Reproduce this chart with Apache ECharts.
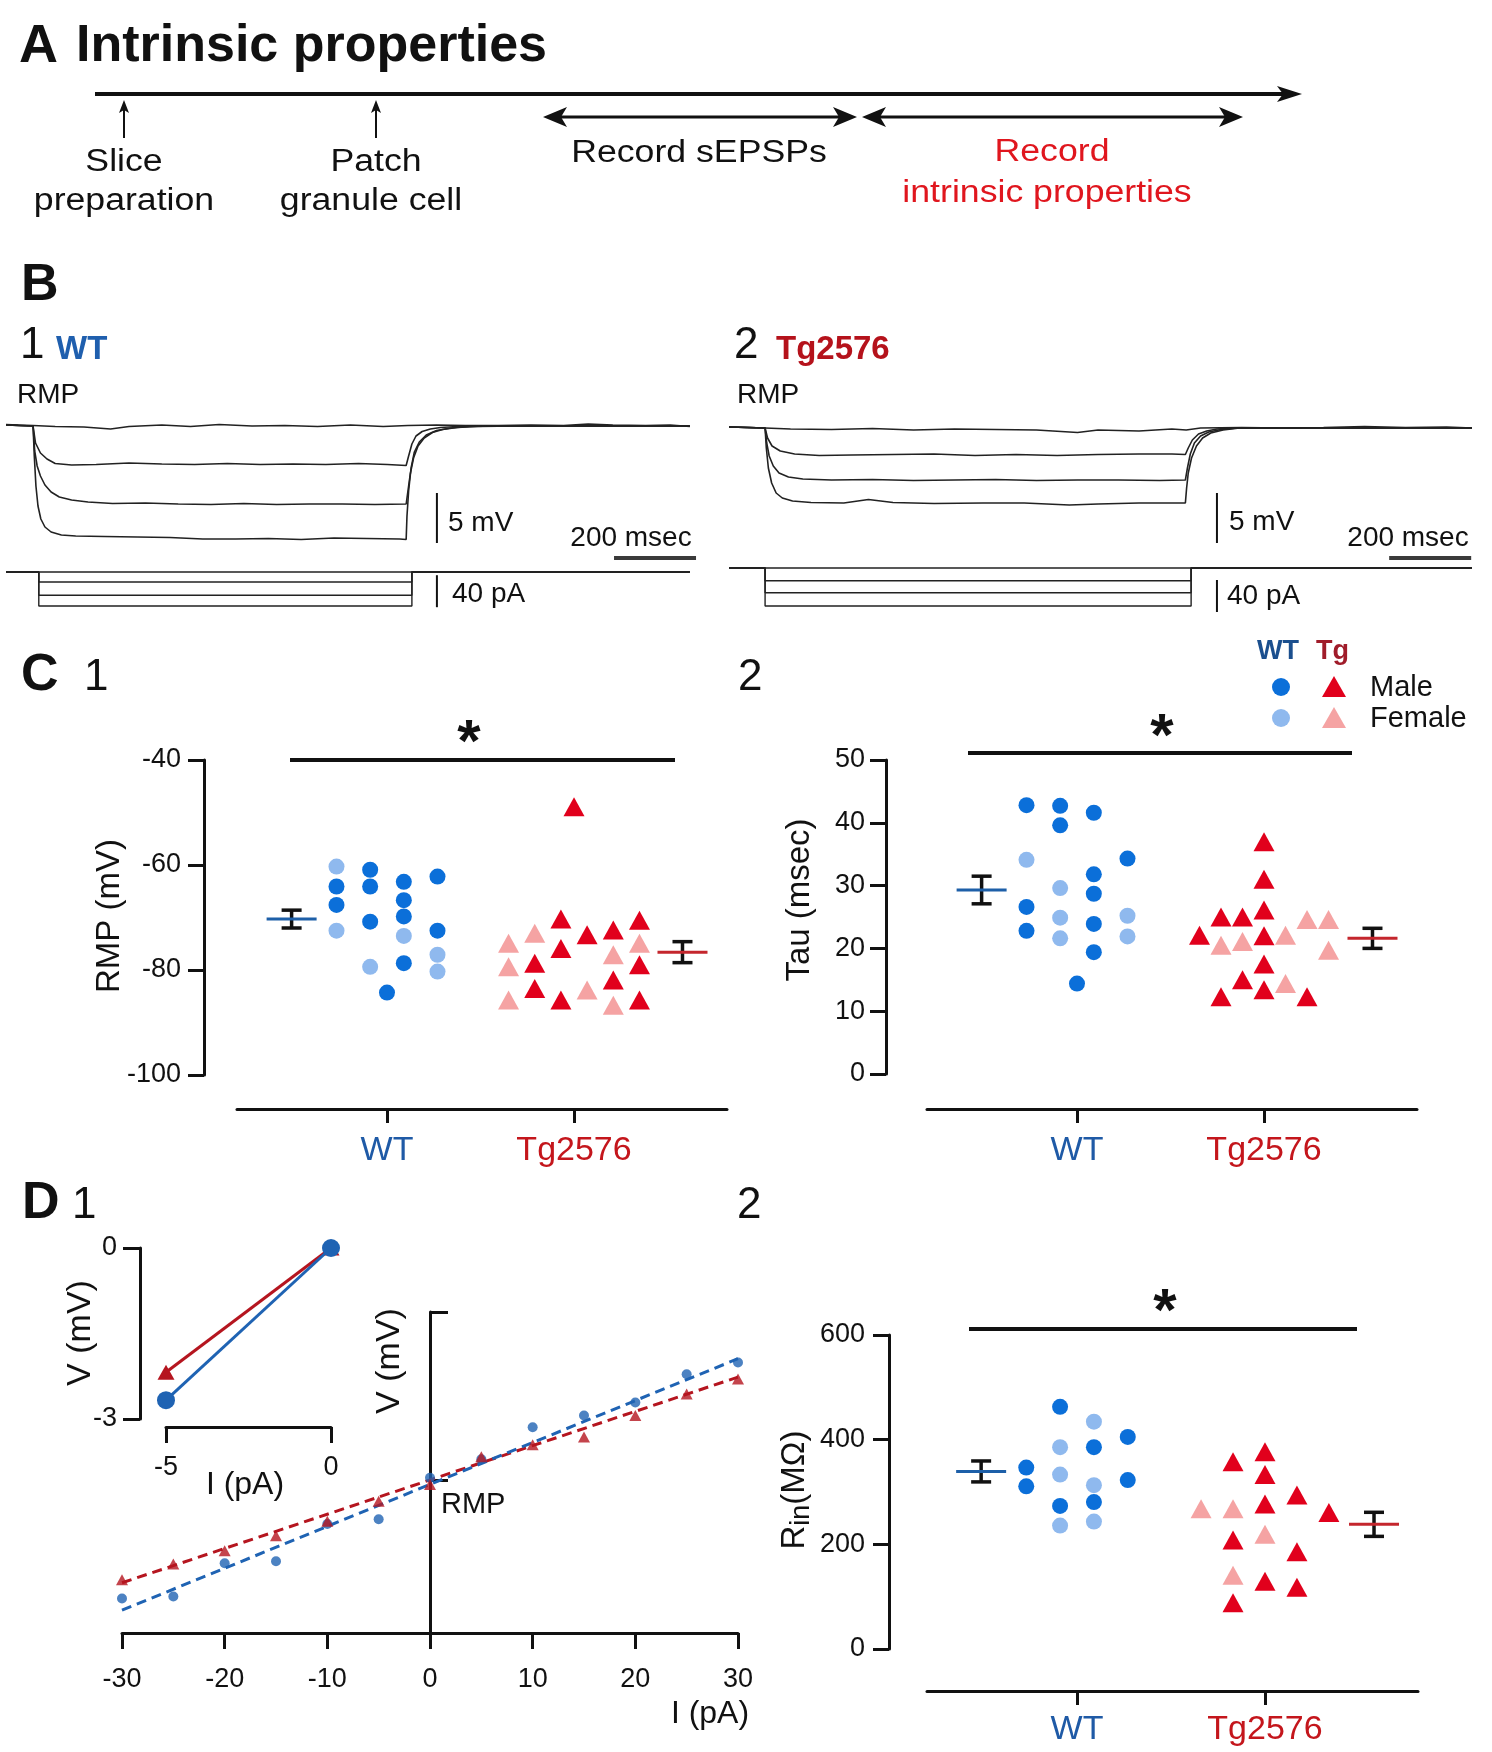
<!DOCTYPE html>
<html>
<head>
<meta charset="utf-8">
<title>Intrinsic properties</title>
<script src="https://cdn.jsdelivr.net/npm/echarts@6.0.0/dist/echarts.min.js"></script>
<style>
html,body{margin:0;padding:0;background:#ffffff;}
#chart{width:1492px;height:1752px;}
</style>
</head>
<body>
<div id="chart"></div>
<script>
// ======================= DATA =======================
const groups = ['WT', 'Tg2576'];

// ---- Panel B: voltage traces [time ms, V (mV) re RMP] ----
const wtTrace0 = [[0,0.15],[30,0.1],[66,0.05],[120,-0.05],[190,-0.1],[255,-0.3],[300,-0.05],[380,0.1],[450,-0.05],[520,0.15],[600,0],[680,0.05],[760,-0.05],[840,0.1],[920,-0.05],[980,0.05],[1050,0.1],[1120,0.05],[1200,0.05],[1280,0.1],[1360,0.05],[1420,0.2],[1480,0.1],[1560,0.05],[1620,0.1],[1668,-0.05]];
const wtTrace1 = [[0,0.1],[66,0],[72,-1.7],[84,-2.7],[100,-3.3],[120,-3.75],[160,-3.9],[220,-3.85],[300,-3.7],[380,-3.8],[460,-3.85],[540,-3.75],[620,-3.85],[700,-3.8],[780,-3.85],[860,-3.75],[930,-3.85],[976,-3.95],[982,-3.0],[990,-1.8],[1000,-1.0],[1015,-0.55],[1035,-0.3],[1060,-0.15],[1100,-0.05],[1160,0.02],[1668,0]];
const wtTrace2 = [[0,0.1],[66,0],[70,-2.5],[76,-4.0],[84,-5.0],[95,-5.9],[110,-6.6],[130,-7.1],[160,-7.4],[200,-7.6],[260,-7.75],[340,-7.7],[420,-7.8],[500,-7.85],[580,-7.75],[660,-7.85],[740,-7.8],[820,-7.8],[900,-7.85],[976,-7.8],[980,-6.6],[986,-4.8],[994,-3.2],[1005,-2.0],[1020,-1.2],[1040,-0.65],[1065,-0.35],[1100,-0.15],[1150,-0.05],[1250,0],[1668,0]];
const wtTrace3 = [[0,0.1],[66,0],[69,-3.0],[73,-6.0],[78,-8.0],[85,-9.3],[95,-10.1],[110,-10.6],[135,-10.9],[170,-11.0],[240,-11.05],[320,-11.1],[400,-11.15],[480,-11.3],[560,-11.3],[640,-11.25],[720,-11.35],[800,-11.2],[880,-11.25],[960,-11.3],[976,-11.35],[978,-9.0],[982,-6.5],[988,-4.2],[996,-2.6],[1008,-1.6],[1025,-0.9],[1050,-0.45],[1085,-0.2],[1130,-0.05],[1200,0],[1668,0]];
const tgTrace0 = [[0,0.1],[50,0.05],[88,0],[150,-0.1],[250,-0.15],[350,-0.05],[450,-0.2],[550,-0.1],[650,-0.15],[750,-0.2],[850,-0.45],[900,-0.2],[1000,-0.3],[1080,-0.1],[1115,-0.2],[1150,0],[1250,0.05],[1350,0],[1450,0.05],[1550,0.15],[1650,0.05],[1750,0.1],[1812,0]];
const tgTrace1 = [[0,0.1],[88,0],[94,-1.0],[105,-1.8],[125,-2.3],[160,-2.6],[220,-2.75],[300,-2.7],[400,-2.65],[500,-2.6],[600,-2.75],[700,-2.65],[800,-2.75],[900,-2.65],[1000,-2.6],[1080,-2.6],[1113,-2.65],[1120,-2.0],[1130,-1.2],[1145,-0.6],[1165,-0.3],[1190,-0.1],[1230,0],[1812,0]];
const tgTrace2 = [[0,0.1],[88,0],[92,-1.5],[98,-2.8],[108,-3.8],[122,-4.5],[145,-4.9],[180,-5.1],[250,-5.2],[350,-5.15],[450,-5.25],[550,-5.2],[650,-5.15],[750,-5.25],[850,-5.2],[950,-5.2],[1050,-5.25],[1113,-5.2],[1118,-4.0],[1125,-2.6],[1135,-1.5],[1150,-0.8],[1170,-0.4],[1200,-0.15],[1240,0],[1812,0]];
const tgTrace3 = [[0,0.1],[88,0],[91,-2.0],[96,-4.0],[104,-5.5],[115,-6.5],[130,-7.0],[155,-7.3],[200,-7.45],[280,-7.5],[340,-7.15],[400,-7.45],[500,-7.55],[620,-7.5],[720,-7.5],[830,-7.7],[900,-7.6],[1000,-7.5],[1113,-7.5],[1116,-6.0],[1120,-4.5],[1128,-3.0],[1140,-1.8],[1155,-1.0],[1175,-0.5],[1205,-0.2],[1245,0],[1812,0]];

// ---- Panel B: current steps (pA) and timing (ms) ----
const wtStepLevels = [0, -12.5, -29, -42.5];
const wtStepWindow = [80, 990];
const wtDuration = 1668;
const tgStepLevels = [0, -16, -31, -47.5];
const tgStepWindow = [88, 1127];
const tgDuration = 1812;

// ---- Panel C1: RMP (mV), [beeswarm column, value] ----
const rmpWtMale   = [[-3,-64.1],[-3,-67.6],[-1,-60.9],[-1,-64.1],[-1,-70.8],[0,-84.3],[1,-63.2],[1,-66.7],[1,-69.8],[1,-78.7],[3,-62.2],[3,-72.5]];
const rmpWtFemale = [[-3,-60.3],[-3,-72.5],[-1,-79.4],[1,-73.5],[3,-77.1],[3,-80.3]];
const rmpTgMale   = [[-3,-78.7],[-3,-83.5],[-1,-70.3],[-1,-75.9],[-1,-85.7],[0,-48.9],[1,-73.3],[3,-72.4],[3,-81.9],[5,-70.5],[5,-79.0],[5,-85.7]];
const rmpTgFemale = [[-5,-74.9],[-5,-79.4],[-5,-85.7],[-3,-73.0],[1,-83.8],[3,-77.1],[3,-86.7],[5,-74.9]];
const rmpStats = [[-70.3, 1.7], [-76.6, 2.0]];   // mean, SEM

// ---- Panel C2: Tau (msec) ----
const tauWtMale   = [[-3,42.8],[-3,26.6],[-3,22.8],[-1,42.7],[-1,39.6],[0,14.4],[1,41.6],[1,31.8],[1,28.7],[1,23.9],[1,19.4],[3,34.3]];
const tauWtFemale = [[-3,34.1],[-1,29.6],[-1,24.9],[-1,21.6],[3,25.2],[3,21.9]];
const tauTgMale   = [[-3,22.1],[-2,25.0],[-2,12.3],[-1,25.0],[-1,15.0],[0,37.0],[0,31.0],[0,26.1],[0,22.0],[0,17.5],[0,13.4],[2,12.3]];
const tauTgFemale = [[-2,20.5],[-1,21.1],[1,22.1],[1,14.4],[2,24.6],[3,24.6],[3,19.7]];
const tauStats = [[29.3, 2.2], [21.6, 1.6]];

// ---- Panel D1: I-V relation ----
const ivCurrents = [-30,-25,-20,-15,-10,-5,0,5,10,15,20,25,30];            // pA
const ivWT = [-9.28,-9.13,-6.5,-6.35,-3.41,-3.04,0.24,1.69,4.21,5.14,6.17,8.39,9.32]; // mV re RMP
const ivTg = [-7.8,-6.56,-5.51,-4.33,-3.2,-1.62,-0.3,1.9,2.83,3.44,5.14,6.84,8.02];
const fitWT = [[-30,-10.2],[30,9.62]];
const fitTg = [[-30,-8.04],[30,8.17]];
const insetWT = [[-5,-2.67],[0,0]];
const insetTg = [[-5,-2.18],[0,0]];

// ---- Panel D2: Rin (MOhm) ----
const rinWtMale   = [[-3,346.7],[-3,310.8],[-1,462.8],[-1,273.4],[1,385.7],[1,280.8],[3,405.2],[3,322.8]];
const rinWtFemale = [[-1,385.7],[-1,333.3],[-1,235.9],[1,434.4],[1,313.0],[1,243.4]];
const rinTgMale   = [[-1,358.0],[-1,208.2],[-1,88.4],[0,376.7],[0,333.3],[0,277.2],[0,129.5],[1,294.4],[1,185.7],[1,118.2],[2,260.7]];
const rinTgFemale = [[-2,268.2],[-1,268.2],[-1,140.8],[0,219.5]];
const rinStats = [[339.3, 20], [238.2, 23]];

// ======================= STYLE / LAYOUT =======================
const FF = '"Liberation Sans", Arial, Helvetica, sans-serif';
const INK = '#111111';
const C_WT_M = '#0b6fd9', C_WT_F = '#8fb9ee', C_TG_M = '#e1001c', C_TG_F = '#f5a3a3';
const C_WT_MEAN = '#1d5fa8', C_TG_MEAN = '#c4262d';
const C_WT_TXT = '#1f5aa6', C_TG_TXT = '#c4161c';
const AX = { color: INK, width: 3 };
const MEAN_OFF = [-0.51, 0.58];

const grids = [], xAxes = [], yAxes = [], series = [], graphics = [];
function addGrid(g, xa, ya) {
  const gi = grids.length;
  grids.push(Object.assign({ outerBoundsMode: 'none', containLabel: false }, g));
  xAxes.push(Object.assign({ gridIndex: gi, splitLine: { show: false } }, xa));
  yAxes.push(Object.assign({ gridIndex: gi, splitLine: { show: false } }, ya));
  return gi;
}
function hidden(min, max) { return { type: 'value', show: false, min: min, max: max }; }

// ---------- Panel B grids ----------
const gBWV = addGrid({ left: 6, top: 406, width: 697, height: 160 }, hidden(0, 1700), hidden(-14, 2));
const gBWI = addGrid({ left: 6, top: 568, width: 697, height: 44 }, hidden(0, 1700), hidden(-50, 5));
const gBTV = addGrid({ left: 729, top: 408, width: 743, height: 160 }, hidden(0, 1812), hidden(-14, 2));
const gBTI = addGrid({ left: 729, top: 564, width: 743, height: 52 }, hidden(0, 1812), hidden(-60, 5));

function trace(gi, data, w) {
  series.push({ type: 'line', xAxisIndex: gi, yAxisIndex: gi, data: data, showSymbol: false, symbol: 'none',
    silent: true, lineStyle: { color: '#222222', width: w || 1.6 }, z: 3 });
}
[wtTrace0, wtTrace1, wtTrace2, wtTrace3].forEach(d => trace(gBWV, d));
[tgTrace0, tgTrace1, tgTrace2, tgTrace3].forEach(d => trace(gBTV, d));
function stepTrace(level, win, dur) {
  return [[0, 0], [win[0], 0], [win[0], level], [win[1], level], [win[1], 0], [dur, 0]];
}
wtStepLevels.forEach(l => trace(gBWI, stepTrace(l, wtStepWindow, wtDuration), 1.4));
tgStepLevels.forEach(l => trace(gBTI, stepTrace(l, tgStepWindow, tgDuration), 1.4));
// scale bars (drawn in the traces' own units)
function bar(gi, pts, w, c) {
  series.push({ type: 'line', xAxisIndex: gi, yAxisIndex: gi, data: pts, showSymbol: false, symbol: 'none',
    silent: true, lineStyle: { color: c || INK, width: w }, z: 4 });
}
bar(gBWV, [[1051, -6.7], [1051, -11.7]], 2);
bar(gBWV, [[1483, -13.2], [1683, -13.2]], 4, '#3a3a3a');
bar(gBWI, [[1051, -4], [1051, -44]], 2);
bar(gBTV, [[1190, -6.5], [1190, -11.5]], 2);
bar(gBTV, [[1610, -13.0], [1810, -13.0]], 4, '#3a3a3a');
bar(gBTI, [[1190, -15], [1190, -55]], 2);

// ---------- scatter panels ----------
function catAxis(min, max, offset, margin) {
  return {
    type: 'value', min: min, max: max, position: 'bottom', offset: offset,
    axisLine: { show: true, onZero: false, lineStyle: AX },
    axisTick: { show: true, customValues: [1, 2], length: 14, lineStyle: AX },
    axisLabel: { show: true, customValues: [1, 2], margin: margin,
      formatter: v => Math.round(v) === 1 ? '{w|' + groups[0] + '}' : '{t|' + groups[1] + '}',
      rich: { w: { color: C_WT_TXT, fontSize: 34, fontFamily: FF }, t: { color: C_TG_TXT, fontSize: 34, fontFamily: FF } } }
  };
}
function valAxis(min, max, interval, offset, margin) {
  return {
    type: 'value', min: min, max: max, interval: interval, position: 'left', offset: offset,
    axisLine: { show: true, onZero: false, lineStyle: AX },
    axisTick: { show: true, length: 16, lineStyle: AX },
    axisLabel: { show: true, fontSize: 27, fontFamily: FF, color: INK, margin: margin }
  };
}
const gC1 = addGrid({ left: 237, top: 760, width: 490, height: 315 }, catAxis(0.198, 2.818, 34, 25), valAxis(-100, -40, 20, 33, 23));
const gC2 = addGrid({ left: 927, top: 760, width: 490, height: 314 }, catAxis(0.198, 2.818, 35, 25), valAxis(0, 50, 10, 41, 21));
const gD2 = addGrid({ left: 927, top: 1335, width: 491, height: 314 }, catAxis(0.202, 2.814, 42, 22), valAxis(0, 600, 200, 38, 24));

function swarm(gi, data, cat, spacing, symbol, color) {
  series.push({
    type: 'scatter', xAxisIndex: gi, yAxisIndex: gi, silent: true, z: 5,
    symbol: symbol, symbolSize: symbol === 'circle' ? 16 : [21, 19],
    itemStyle: { color: color, opacity: 1 },
    data: data.map(p => [cat + p[0] * spacing, p[1]])
  });
}
function meanSem(gi, stats) {
  series.push({
    type: 'custom', xAxisIndex: gi, yAxisIndex: gi, silent: true, z: 6,
    data: stats.map((s, i) => [i + 1 + MEAN_OFF[i], s[0], s[1], i]),
    renderItem: function (params, api) {
      const x = api.value(0), m = api.value(1), s = api.value(2), idx = api.value(3);
      const c = api.coord([x, m]), t = api.coord([x, m + s]), b = api.coord([x, m - s]);
      const st = { stroke: INK, lineWidth: 3.5 };
      return { type: 'group', children: [
        { type: 'line', shape: { x1: c[0], y1: t[1], x2: c[0], y2: b[1] }, style: st },
        { type: 'line', shape: { x1: c[0] - 10, y1: t[1], x2: c[0] + 10, y2: t[1] }, style: st },
        { type: 'line', shape: { x1: c[0] - 10, y1: b[1], x2: c[0] + 10, y2: b[1] }, style: st },
        { type: 'line', shape: { x1: c[0] - 25, y1: c[1], x2: c[0] + 25, y2: c[1] },
          style: { stroke: idx === 0 ? C_WT_MEAN : C_TG_MEAN, lineWidth: 3 } }
      ] };
    }
  });
}
function panel(gi, wm, wf, tm, tf, stats, spWT, spTG) {
  swarm(gi, wf, 1, spWT, 'circle', C_WT_F);
  swarm(gi, wm, 1, spWT, 'circle', C_WT_M);
  swarm(gi, tf, 2, spTG, 'triangle', C_TG_F);
  swarm(gi, tm, 2, spTG, 'triangle', C_TG_M);
  meanSem(gi, stats);
}
panel(gC1, rmpWtMale, rmpWtFemale, rmpTgMale, rmpTgFemale, rmpStats, 0.09, 0.07);
panel(gC2, tauWtMale, tauWtFemale, tauTgMale, tauTgFemale, tauStats, 0.09, 0.115);
panel(gD2, rinWtMale, rinWtFemale, rinTgMale, rinTgFemale, rinStats, 0.09, 0.17);

// ---------- Panel D1 ----------
const gD1 = addGrid({ left: 122, top: 1312, width: 616, height: 321 },
  { type: 'value', min: -30, max: 30, interval: 10, position: 'bottom',
    axisLine: { show: true, onZero: false, lineStyle: AX },
    axisTick: { show: true, length: 16, lineStyle: AX },
    axisLabel: { show: true, fontSize: 27, fontFamily: FF, color: INK, margin: 33 } },
  { type: 'value', min: -12, max: 13.3,
    axisLine: { show: true, onZero: true, lineStyle: AX },
    axisTick: { show: true, inside: true, customValues: [0, 13.3], length: 18, lineStyle: AX },
    axisLabel: { show: false } });
const C_D_WT = '#1f63b3', C_D_TG = '#b5151f';
series.push({ type: 'line', xAxisIndex: gD1, yAxisIndex: gD1, data: fitTg, showSymbol: false, symbol: 'none', silent: true, z: 3,
  lineStyle: { color: C_D_TG, width: 3, type: [10, 6] } });
series.push({ type: 'line', xAxisIndex: gD1, yAxisIndex: gD1, data: fitWT, showSymbol: false, symbol: 'none', silent: true, z: 3,
  lineStyle: { color: C_D_WT, width: 3, type: [10, 6] } });
series.push({ type: 'scatter', xAxisIndex: gD1, yAxisIndex: gD1, silent: true, z: 5, symbol: 'circle', symbolSize: 10,
  itemStyle: { color: C_D_WT }, data: ivCurrents.map((c, i) => [c, ivWT[i]]) });
series.push({ type: 'scatter', xAxisIndex: gD1, yAxisIndex: gD1, silent: true, z: 5, symbol: 'triangle', symbolSize: [12, 11],
  itemStyle: { color: C_D_TG }, data: ivCurrents.map((c, i) => [c, ivTg[i]]) });

const gD1i = addGrid({ left: 166, top: 1248, width: 165, height: 171 },
  { type: 'value', min: -5, max: 0, interval: 5, position: 'bottom', offset: 8,
    axisLine: { show: true, onZero: false, lineStyle: AX },
    axisTick: { show: true, length: 16, lineStyle: AX },
    axisLabel: { show: true, fontSize: 27, fontFamily: FF, color: INK, margin: 27 } },
  { type: 'value', min: -3, max: 0, interval: 3, position: 'left', offset: 26,
    axisLine: { show: true, onZero: false, lineStyle: AX },
    axisTick: { show: true, length: 17, lineStyle: AX },
    axisLabel: { show: true, fontSize: 27, fontFamily: FF, color: INK, margin: 23 } });
series.push({ type: 'line', xAxisIndex: gD1i, yAxisIndex: gD1i, data: insetTg, silent: true, z: 4,
  symbol: 'triangle', symbolSize: [17, 15], showSymbol: true, showAllSymbol: true,
  itemStyle: { color: C_D_TG }, lineStyle: { color: C_D_TG, width: 3 } });
series.push({ type: 'line', xAxisIndex: gD1i, yAxisIndex: gD1i, data: insetWT, silent: true, z: 5,
  symbol: 'circle', symbolSize: 18, showSymbol: true, showAllSymbol: true,
  itemStyle: { color: C_D_WT }, lineStyle: { color: C_D_WT, width: 3 } });

// ======================= TEXT & DIAGRAM =======================
function T(x, y, text, size, o) {
  o = o || {};
  const st = { text: text, fontSize: size, fontFamily: FF, fontWeight: o.bold ? 'bold' : 'normal',
    fill: o.color || INK, align: o.align || 'left', verticalAlign: 'middle',
    textAlign: o.align || 'left', textVerticalAlign: 'middle' };
  if (o.rich) st.rich = o.rich;
  return { type: 'text', x: x, y: y, rotation: o.rot || 0, scaleX: o.sx || 1, silent: true, z: 50, style: st };
}
function L(x1, y1, x2, y2, w, c) {
  return { type: 'line', silent: true, z: 40, shape: { x1: x1, y1: y1, x2: x2, y2: y2 }, style: { stroke: c || INK, lineWidth: w } };
}
function P(pts, c) { return { type: 'polygon', silent: true, z: 41, shape: { points: pts }, style: { fill: c || INK } }; }
function headH(tx, ty, dir, len, half, notch) { // horizontal arrow head, dir=+1 points right
  return P([[tx, ty], [tx - dir * len, ty - half], [tx - dir * (len - notch), ty], [tx - dir * len, ty + half]]);
}
function headUp(tx, ty, len, half, notch) {
  return P([[tx, ty], [tx - half, ty + len], [tx, ty + len - notch], [tx + half, ty + len]]);
}
const SX = 1.15;
// Panel A
graphics.push(T(19, 47, 'A', 54, { bold: true }));
graphics.push(T(76, 47, 'Intrinsic properties', 52, { bold: true }));
graphics.push(L(95, 94, 1285, 94, 4));
graphics.push(headH(1302, 94, 1, 25, 8, 6));
graphics.push(L(124, 138, 124, 108, 2));
graphics.push(headUp(124, 100, 13, 5, 3));
graphics.push(L(376, 138, 376, 108, 2));
graphics.push(headUp(376, 100, 13, 5, 3));
graphics.push(L(556, 117, 844, 117, 3));
graphics.push(headH(543, 117, -1, 24, 10, 6));
graphics.push(headH(857, 117, 1, 24, 10, 6));
graphics.push(L(875, 117, 1230, 117, 3));
graphics.push(headH(862, 117, -1, 24, 10, 6));
graphics.push(headH(1243, 117, 1, 24, 10, 6));
graphics.push(T(124, 162, 'Slice', 31, { align: 'center', sx: SX }));
graphics.push(T(124, 201, 'preparation', 31, { align: 'center', sx: SX }));
graphics.push(T(376, 162, 'Patch', 31, { align: 'center', sx: SX }));
graphics.push(T(371, 201, 'granule cell', 31, { align: 'center', sx: SX }));
graphics.push(T(699, 153, 'Record sEPSPs', 31, { align: 'center', sx: SX }));
graphics.push(T(1052, 152, 'Record', 31, { align: 'center', sx: SX, color: '#e0161e' }));
graphics.push(T(1047, 193, 'intrinsic properties', 31, { align: 'center', sx: SX, color: '#e0161e' }));
// Panel B
graphics.push(T(21, 286, 'B', 52, { bold: true }));
graphics.push(T(20, 346, '1', 44));
graphics.push(T(56, 350, 'WT', 33, { bold: true, color: '#1f5fae' }));
graphics.push(T(734, 346, '2', 44));
graphics.push(T(776, 350, 'Tg2576', 33, { bold: true, color: '#b5121b' }));
graphics.push(T(17, 395, 'RMP', 28));
graphics.push(T(737, 395, 'RMP', 28));
graphics.push(T(448, 523, '5 mV', 28));
graphics.push(T(631, 538, '200 msec', 28, { align: 'center' }));
graphics.push(T(452, 594, '40 pA', 28));
graphics.push(T(1229, 522, '5 mV', 28));
graphics.push(T(1408, 538, '200 msec', 28, { align: 'center' }));
graphics.push(T(1227, 596, '40 pA', 28));
// Panel C
graphics.push(T(21, 676, 'C', 52, { bold: true }));
graphics.push(T(84, 678, '1', 44));
graphics.push(T(738, 678, '2', 44));
graphics.push(T(110, 916, 'RMP (mV)', 33, { align: 'center', rot: Math.PI / 2 }));
graphics.push(T(800, 900, 'Tau (msec)', 33, { align: 'center', rot: Math.PI / 2 }));
graphics.push(L(290, 760, 675, 760, 4));
graphics.push(T(469, 744, '*', 60, { bold: true, align: 'center' }));
graphics.push(L(968, 753, 1352, 753, 4));
graphics.push(T(1162, 738, '*', 60, { bold: true, align: 'center' }));
// legend
graphics.push(T(1257, 652, 'WT', 27, { bold: true, color: '#1b4f8e' }));
graphics.push(T(1316, 652, 'Tg', 27, { bold: true, color: '#a01c2a' }));
graphics.push({ type: 'circle', silent: true, z: 41, shape: { cx: 1281, cy: 687, r: 9 }, style: { fill: C_WT_M } });
graphics.push({ type: 'circle', silent: true, z: 41, shape: { cx: 1281, cy: 718, r: 9 }, style: { fill: C_WT_F } });
graphics.push(P([[1334, 676], [1322, 697], [1346, 697]], C_TG_M));
graphics.push(P([[1334, 707], [1322, 728], [1346, 728]], C_TG_F));
graphics.push(T(1370, 688, 'Male', 29));
graphics.push(T(1370, 719, 'Female', 29));
// Panel D
graphics.push(T(22, 1204, 'D', 52, { bold: true }));
graphics.push(T(72, 1206, '1', 44));
graphics.push(T(737, 1206, '2', 44));
graphics.push(T(390, 1361, 'V (mV)', 34, { align: 'center', rot: Math.PI / 2 }));
graphics.push(T(81, 1333, 'V (mV)', 34, { align: 'center', rot: Math.PI / 2 }));
graphics.push(T(710, 1714, 'I (pA)', 32, { align: 'center' }));
graphics.push(T(245, 1485, 'I (pA)', 32, { align: 'center' }));
graphics.push(T(441, 1505, 'RMP', 29));
graphics.push(T(795, 1490, '{r|R}{s|in}{r|(MΩ)}', 33, { align: 'center', rot: Math.PI / 2,
  rich: { r: { fontSize: 33, fontFamily: FF, lineHeight: 40, fill: INK, color: INK },
          s: { fontSize: 27, fontFamily: FF, lineHeight: 27, verticalAlign: 'bottom', fill: INK, color: INK } } }));
graphics.push(L(969, 1329, 1357, 1329, 4));
graphics.push(T(1165, 1313, '*', 60, { bold: true, align: 'center' }));

// ======================= CHART =======================
const chart = echarts.init(document.getElementById('chart'), null, { renderer: 'canvas', width: 1492, height: 1752 });
chart.setOption({
  backgroundColor: '#ffffff',
  animation: false,
  textStyle: { fontFamily: FF },
  grid: grids,
  xAxis: xAxes,
  yAxis: yAxes,
  series: series,
  graphic: { elements: graphics }
});
</script>
</body>
</html>
